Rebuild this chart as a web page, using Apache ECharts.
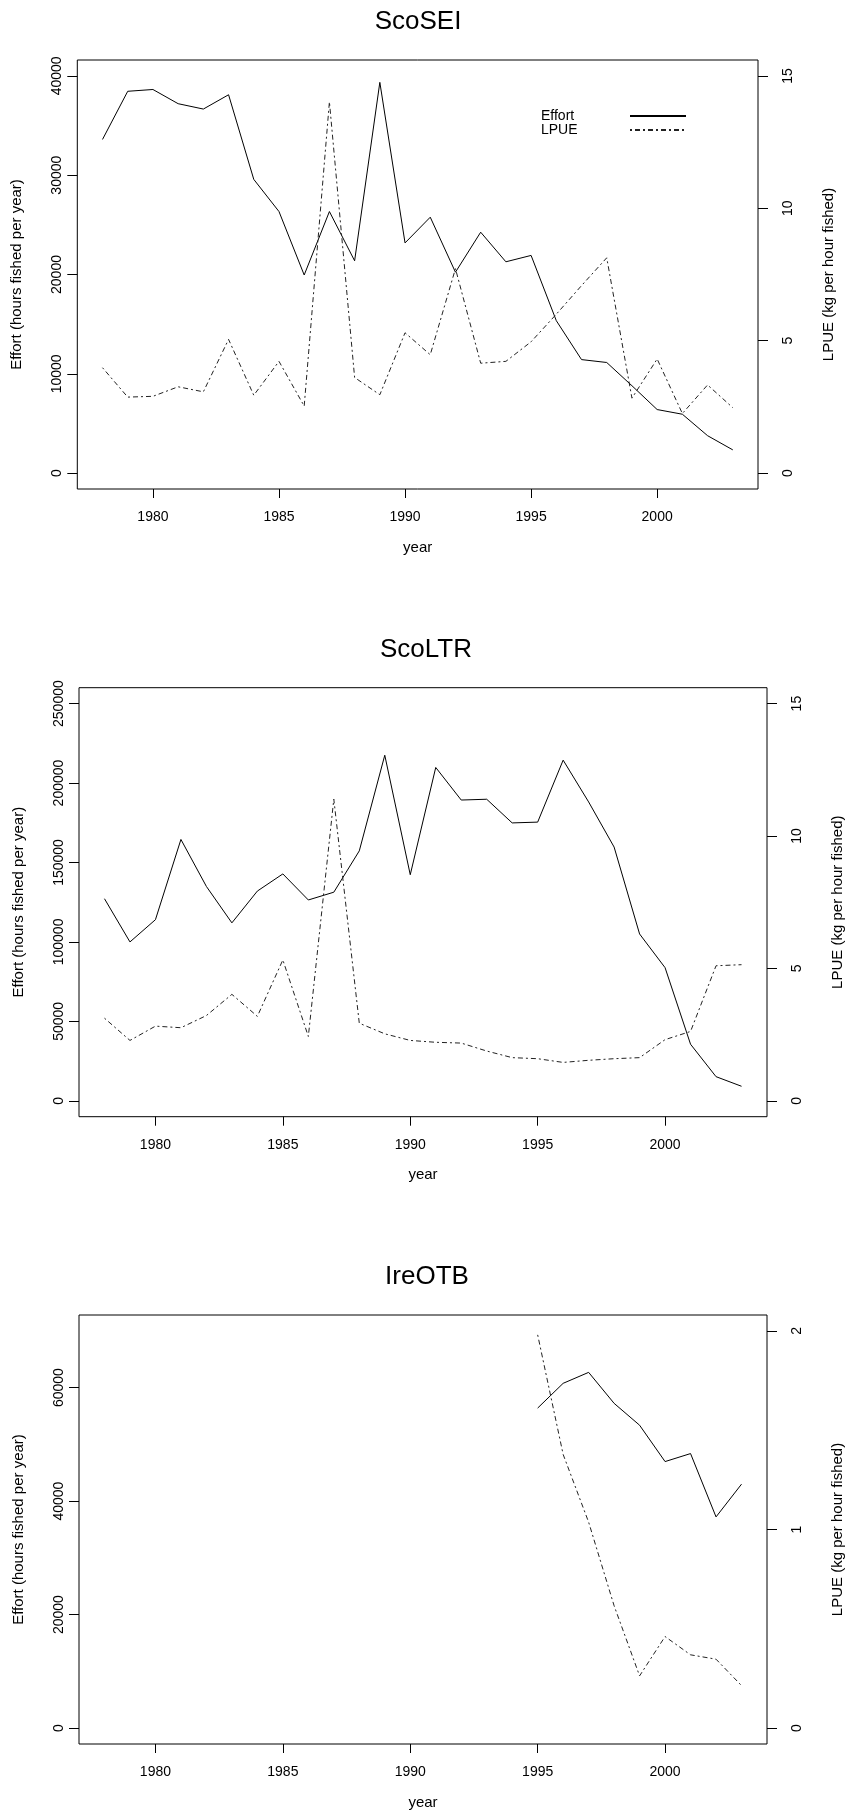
<!DOCTYPE html>
<html><head><meta charset="utf-8">
<script src="https://cdn.jsdelivr.net/npm/echarts@6/dist/echarts.min.js"></script>
<style>html,body{margin:0;padding:0;background:#fff}#c{width:853px;height:1811px}</style>
</head><body><div id="c"></div>
<script>
// ---- data ----
const years = [1978,1979,1980,1981,1982,1983,1984,1985,1986,1987,1988,1989,1990,1991,1992,1993,1994,1995,1996,1997,1998,1999,2000,2001,2002,2003];
const scoSEI_effort = [33600,38450,38630,37200,36660,38100,29580,26340,19950,26340,21380,39350,23180,25770,20230,24260,21280,21920,15350,11430,11140,8800,6400,5930,3770,2340];
const scoSEI_lpue = [3.98,2.87,2.90,3.26,3.07,5.05,2.94,4.22,2.53,14.02,3.61,2.96,5.30,4.47,7.72,4.15,4.22,4.96,6.0,7.08,8.13,2.83,4.31,2.25,3.33,2.47];
const scoLTR_effort = [127200,100000,114000,164500,134900,112000,132000,142800,126400,131300,157300,217500,142300,209800,189300,189800,174900,175400,214400,188100,159700,105000,83800,35600,15200,9150];
const scoLTR_lpue = [3.12,2.28,2.82,2.76,3.22,4.02,3.19,5.32,2.43,11.39,2.93,2.53,2.28,2.21,2.18,1.88,1.63,1.59,1.45,1.53,1.59,1.63,2.31,2.62,5.10,5.14];
const ireOTB_years = [1995,1996,1997,1998,1999,2000,2001,2002,2003];
const ireOTB_effort = [56400,60760,62690,57230,53380,46970,48380,37220,42990];
const ireOTB_lpue = [1.98,1.378,1.037,0.616,0.263,0.461,0.369,0.347,0.214];
const panelTitles = ['ScoSEI','ScoLTR','IreOTB'];
const xTicks = [1980,1985,1990,1995,2000];
const seiEffortTicks = [0,10000,20000,30000,40000];
const seiLpueTicks = [0,5,10,15];
const ltrEffortTicks = [0,50000,100000,150000,200000,250000];
const ltrLpueTicks = [0,5,10,15];
const ireEffortTicks = [0,20000,40000,60000];
const ireLpueTicks = [0,1,2];
const leftName = 'Effort (hours fished per year)';
const rightName = 'LPUE (kg per hour fished)';
const xName = 'year';

// ---- layout ----
const FONT = "'Liberation Sans', Arial, Helvetica, sans-serif";
const panels = [
  {top:60, left:77.3, right:853-758, titleX:413, titleTop:4, eff:scoSEI_effort, lpue:scoSEI_lpue, yrs:years,
   yL:[-1600,41600], yR:[-0.6,15.6], tL:seiEffortTicks, tR:seiLpueTicks},
  {top:687.7, left:79, right:853-774.5, titleX:421, titleTop:632, eff:scoLTR_effort, lpue:scoLTR_lpue, yrs:years,
   yL:[-10000,260000], yR:[-0.6,15.6], tL:ltrEffortTicks, tR:ltrLpueTicks},
  {top:1315, left:79, right:853-774.5, titleX:422, titleTop:1259, eff:ireOTB_effort, lpue:ireOTB_lpue, yrs:ireOTB_years,
   yL:[-2800,72800], yR:[-0.08,2.08], tL:ireEffortTicks, tR:ireLpueTicks}
];
const H = 429;
const dash = [2,3,5,3];

const option = {
  animation:false,
  backgroundColor:'#fff',
  textStyle:{fontFamily:FONT, color:'#000'},
  title:[], grid:[], xAxis:[], yAxis:[], series:[],
  legend:{
    orient:'vertical', left:536, top:104, align:'right',
    itemWidth:56, itemHeight:12, itemGap:0,
    data:['Effort','LPUE'],
    selectedMode:false,
    itemStyle:{opacity:0, borderWidth:0},
    lineStyle:{opacity:1},
    formatter: n => '{a|' + n + '}',
    textStyle:{fontFamily:FONT, fontSize:14, color:'#000',
      rich:{a:{width:84, lineHeight:13, align:'left', fontFamily:FONT, fontSize:14, color:'#000'}}}
  }
};
const lab = v => String(v);
panels.forEach((p,i) => {
  option.title.push({text:panelTitles[i], left:p.titleX, top:p.titleTop, textAlign:'center',
    textStyle:{fontFamily:FONT, fontSize:26, fontWeight:'normal', color:'#000'}});
  option.grid.push({left:p.left, right:p.right, top:p.top, height:H, show:true,
    borderColor:'#000', borderWidth:1, backgroundColor:'transparent', containLabel:false});
  option.xAxis.push({type:'value', gridIndex:i, min:1977, max:2004,
    axisLine:{show:false, onZero:false}, splitLine:{show:false},
    axisTick:{show:true, inside:false, length:9, lineStyle:{color:'#000'}, customValues:xTicks},
    axisLabel:{show:true, margin:21, fontSize:14, color:'#000', fontFamily:FONT, customValues:xTicks, formatter:lab},
    name:xName, nameLocation:'middle', nameGap:51,
    nameTextStyle:{fontFamily:FONT, fontSize:15, color:'#000'}});
  option.yAxis.push({type:'value', gridIndex:i, position:'left', min:p.yL[0], max:p.yL[1],
    axisLine:{show:false, onZero:false}, splitLine:{show:false},
    axisTick:{show:true, inside:false, length:10, lineStyle:{color:'#000'}, customValues:p.tL},
    axisLabel:{show:true, rotate:90, margin:13, fontSize:14, color:'#000', fontFamily:FONT, customValues:p.tL, formatter:lab},
    name:leftName, nameLocation:'middle', nameRotate:90, nameGap:53,
    nameTextStyle:{fontFamily:FONT, fontSize:15, color:'#000'}});
  option.yAxis.push({type:'value', gridIndex:i, position:'right', min:p.yR[0], max:p.yR[1],
    axisLine:{show:false, onZero:false}, splitLine:{show:false},
    axisTick:{show:true, inside:false, length:10, lineStyle:{color:'#000'}, customValues:p.tR},
    axisLabel:{show:true, rotate:90, margin:23, fontSize:14, color:'#000', fontFamily:FONT, customValues:p.tR, formatter:lab},
    name:rightName, nameLocation:'middle', nameRotate:90, nameGap:63,
    nameTextStyle:{fontFamily:FONT, fontSize:15, color:'#000'}});
  option.series.push({type:'line', name:'Effort', xAxisIndex:i, yAxisIndex:2*i,
    data:p.yrs.map((y,k)=>[y,p.eff[k]]), symbol:'none', showSymbol:false,
    lineStyle:{color:'#000', width:1, type:'solid'}, itemStyle:{color:'#000'}, silent:true});
  option.series.push({type:'line', name:'LPUE', xAxisIndex:i, yAxisIndex:2*i+1,
    data:p.yrs.map((y,k)=>[y,p.lpue[k]]), symbol:'none', showSymbol:false,
    lineStyle:{color:'#222', width:1, type:dash}, itemStyle:{color:'#222'}, silent:true});
});
const chart = echarts.init(document.getElementById('c'), null, {renderer:'canvas'});
chart.setOption(option);
</script></body></html>
